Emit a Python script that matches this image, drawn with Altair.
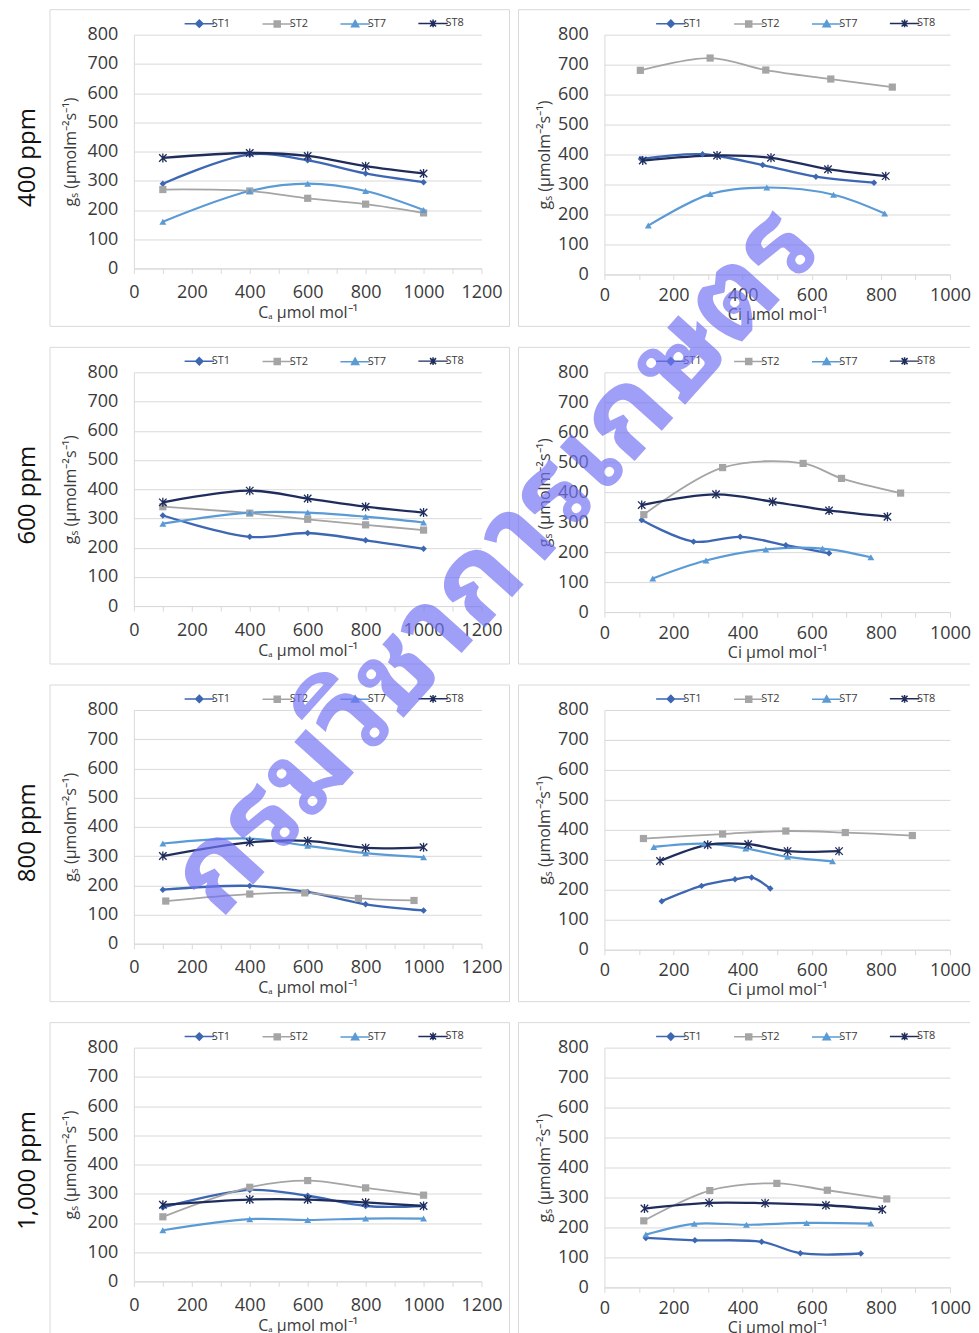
import altair as alt
import pandas as pd

SERIES = ["ST1", "ST2", "ST7", "ST8"]
COLORS = ["#3d66b3", "#a5a5a5", "#5b9bd5", "#1f2d5c"]
ROW_LABELS = ["400 ppm", "600 ppm", "800 ppm", "1,000 ppm"]
WATERMARK = "กรมวิชาการเกษตร"
X_TITLE_CA = "Cₐ μmol mol⁻¹"
X_TITLE_CI = "Ci μmol mol⁻¹"
Y_TITLE = "gₛ (μmolm⁻²s⁻¹)"

CA = [100, 400, 600, 800, 1000]
CA_800_ST2 = [110, 400, 590, 775, 967]

# ---- 400 ppm ----
GS_CA_400 = {"ST1": [290, 390, 370, 325, 295], "ST2": [270, 265, 240, 220, 190],
             "ST7": [160, 265, 290, 265, 200], "ST8": [378, 395, 385, 350, 325]}
CI_400 = {"ST1": [106, 284, 458, 612, 780], "ST2": [104, 306, 467, 655, 833],
          "ST7": [127, 306, 470, 663, 811], "ST8": [111, 326, 482, 647, 814]}
GS_CI_400 = {"ST1": [385, 401, 365, 326, 306], "ST2": [681, 722, 682, 652, 625],
             "ST7": [163, 268, 290, 266, 203], "ST8": [380, 397, 389, 351, 328]}

# ---- 600 ppm ----
GS_CA_600 = {"ST1": [310, 237, 250, 225, 196], "ST2": [340, 318, 297, 278, 260],
             "ST7": [282, 320, 320, 306, 286], "ST8": [355, 395, 368, 340, 320]}
CI_600 = {"ST1": [108, 258, 393, 525, 650], "ST2": [114, 342, 575, 686, 857],
          "ST7": [140, 294, 467, 631, 771], "ST8": [108, 323, 487, 650, 819]}
GS_CI_600 = {"ST1": [307, 235, 251, 223, 196], "ST2": [325, 482, 496, 446, 397],
             "ST7": [112, 172, 209, 212, 183], "ST8": [357, 393, 368, 339, 318]}

# ---- 800 ppm ----
GS_CA_800 = {"ST1": [185, 198, 177, 135, 114], "ST2": [146, 170, 174, 155, 148],
             "ST7": [343, 360, 335, 310, 296], "ST8": [300, 347, 352, 328, 330]}
CI_800 = {"ST1": [166, 281, 378, 426, 480], "ST2": [113, 342, 525, 697, 891],
          "ST7": [143, 289, 409, 530, 660], "ST8": [161, 299, 416, 530, 679]}
GS_CI_800 = {"ST1": [162, 213, 235, 241, 204], "ST2": [371, 386, 396, 391, 381],
             "ST7": [343, 354, 338, 310, 295], "ST8": [296, 350, 352, 329, 329]}

# ---- 1,000 ppm ----
GS_CA_1000 = {"ST1": [253, 313, 293, 258, 258], "ST2": [221, 322, 345, 320, 295],
              "ST7": [175, 213, 210, 215, 215], "ST8": [262, 280, 280, 270, 258]}
CI_1000 = {"ST1": [120, 262, 455, 567, 742], "ST2": [114, 305, 499, 645, 817],
           "ST7": [120, 260, 411, 585, 771], "ST8": [116, 303, 465, 641, 804]}
GS_CI_1000 = {"ST1": [165, 157, 152, 114, 113], "ST2": [222, 323, 347, 324, 295],
              "ST7": [176, 212, 209, 215, 213], "ST8": [263, 282, 281, 274, 260]}

CA_X_400 = {s: CA for s in SERIES}
CA_X_600 = {s: CA for s in SERIES}
CA_X_800 = {"ST1": CA, "ST2": CA_800_ST2, "ST7": CA, "ST8": CA}
CA_X_1000 = {s: CA for s in SERIES}

FONT = "Open Sans"
TXT = "#3a3a3a"
GRID = "#d9d9d9"

MARKER_SHAPES = ["diamond", "square", "triangle-up", "M-1,-1L1,1M-1,1L1,-1M0,-1.2L0,1.2"]
MARKER_SIZES = [42, 52, 48, 56]
MARKER_FILLED = [True, True, True, False]
LINE_WIDTHS = [2.3, 1.8, 2.2, 2.3]
STUB = "M-4.9,0H4.9"
LEGEND_SHAPES = [STUB + "M0,-1.2L1.2,0L0,1.2L-1.2,0Z",
                 STUB + "M-1,-1H1V1H-1Z",
                 STUB + "M0,-1.2L1.2,0.9H-1.2Z",
                 STUB + "M-1,-1L1,1M-1,1L1,-1M0,-1.3V1.3"]


def make_df(xs, ys):
    rows = []
    for s in SERIES:
        for i, (a, b) in enumerate(zip(xs[s], ys[s])):
            rows.append({"series": s, "x": a, "y": b, "i": i})
    return pd.DataFrame(rows)


def panel(xs, ys, left, row_label=None, watermark=False):
    if left:
        w, h, xmax, xtitle = 348, 234, 1200, X_TITLE_CA
        bx0, bx1, lx, ytp, xlp, xtp = -84, 376, 60, 9, 10, 3
    else:
        w, h, xmax, xtitle = 346, 240, 1000, X_TITLE_CI
        bx0, bx1, lx, ytp, xlp, xtp = -86, 366, 61, 5, 7, 2
    df = make_df(xs, ys)
    base = alt.Chart(df)
    xaxis = alt.Axis(values=list(range(0, xmax + 1, 100)), format="d",
                     labelExpr="datum.value % 200 === 0 ? datum.label : ''",
                     labelOverlap=False, labelFlush=False, grid=False,
                     domainColor=GRID, tickColor=GRID, tickSize=5,
                     labelPadding=xlp, labelFontSize=18, title=xtitle,
                     titleFontSize=16, titlePadding=xtp)
    yaxis = alt.Axis(values=list(range(0, 801, 100)), format="d",
                     labelOverlap=False, labelFlush=False, grid=True,
                     gridColor=GRID, domainColor=GRID, ticks=False, tickSize=0,
                     labelPadding=16, labelFontSize=18, title=Y_TITLE,
                     titleFontSize=16, titlePadding=ytp)
    X = alt.X("x:Q", scale=alt.Scale(domain=[0, xmax], nice=False), axis=xaxis)
    Y = alt.Y("y:Q", scale=alt.Scale(domain=[0, 800], nice=False), axis=yaxis)

    one = pd.DataFrame({"label": [row_label or ""]})
    layers = []
    frame = alt.Chart(one).mark_rule(stroke=GRID, strokeWidth=1, clip=False)
    layers.append(frame.encode(x=alt.value(bx0), x2=alt.value(bx1), y=alt.value(-25)))
    layers.append(frame.encode(x=alt.value(bx0), x2=alt.value(bx1), y=alt.value(292)))
    layers.append(frame.encode(x=alt.value(bx0), y=alt.value(-25), y2=alt.value(292)))
    if left:
        layers.append(frame.encode(x=alt.value(bx1), y=alt.value(-25), y2=alt.value(292)))
        layers.append(alt.Chart(one).mark_rect(fillOpacity=0, strokeOpacity=0, clip=False)
                      .encode(x=alt.value(-126), x2=alt.value(-125), y=alt.value(-25), y2=alt.value(-24)))
        layers.append(alt.Chart(one).mark_text(angle=270, fontSize=24, font=FONT, color="#111111",
                                               align="center", baseline="middle", clip=False)
                      .encode(x=alt.value(-106), y=alt.value(h / 2 + 6), text="label:N"))
    # legend-only layer (no data rows drawn; legend built from the series domain)
    leg = alt.Legend(orient="none", legendX=lx, legendY=-17, direction="horizontal", title=None,
                     labelFont=FONT, labelFontSize=11, labelColor=TXT, symbolSize=36,
                     symbolStrokeWidth=1.5, labelOffset=7, columnPadding=28, padding=0)
    layers.append(base.transform_filter("datum.x < 0")
                  .mark_point(filled=True, opacity=1, size=36, strokeWidth=1.5)
                  .encode(x=X, y=Y,
                          color=alt.Color("series:N", scale=alt.Scale(domain=SERIES, range=COLORS), legend=leg),
                          stroke=alt.Stroke("series:N", scale=alt.Scale(domain=SERIES, range=COLORS), legend=leg),
                          shape=alt.Shape("series:N", scale=alt.Scale(domain=SERIES, range=LEGEND_SHAPES), legend=leg)))
    for s, c, lw in zip(SERIES, COLORS, LINE_WIDTHS):
        layers.append(base.transform_filter(alt.datum.series == s)
                      .mark_line(interpolate="catmull-rom", strokeWidth=lw, color=c)
                      .encode(x=X, y=Y, order="i:Q"))
    for s, c, shp, sz, fl in zip(SERIES, COLORS, MARKER_SHAPES, MARKER_SIZES, MARKER_FILLED):
        layers.append(base.transform_filter(alt.datum.series == s)
                      .mark_point(shape=shp, size=sz, filled=fl, color=c, opacity=1, strokeWidth=1.3)
                      .encode(x=X, y=Y))
    if watermark:
        wm = pd.DataFrame({"t": [WATERMARK]})
        layers.append(alt.Chart(wm).mark_text(angle=312, fontSize=116, fontWeight="bold", color="#7272f4",
                                              opacity=0.68, align="center", baseline="middle",
                                              font="Noto Sans Thai Looped, Loma, Noto Sans", clip=False)
                      .encode(x=alt.value(-108), y=alt.value(-486), text="t:N"))
    return alt.layer(*layers).properties(width=w, height=h)


panels = [
    panel(CA_X_400, GS_CA_400, True, ROW_LABELS[0]), panel(CI_400, GS_CI_400, False),
    panel(CA_X_600, GS_CA_600, True, ROW_LABELS[1]), panel(CI_600, GS_CI_600, False),
    panel(CA_X_800, GS_CA_800, True, ROW_LABELS[2]), panel(CI_800, GS_CI_800, False),
    panel(CA_X_1000, GS_CA_1000, True, ROW_LABELS[3]), panel(CI_1000, GS_CI_1000, False, watermark=True),
]

chart = (alt.concat(*panels, columns=2, spacing={"row": 98, "column": 123}, bounds="flush")
         .resolve_scale(color="independent", stroke="independent", shape="independent")
         .properties(padding={"left": 0, "top": 0, "right": 0, "bottom": 0},
                     autosize=alt.AutoSizeParams(type="pad"))
         .configure_view(stroke=None)
         .configure_axis(labelFont=FONT, titleFont=FONT, labelColor=TXT, titleColor=TXT,
                         titleFontWeight="normal"))

chart.save("out.html", embed_options={"renderer": "svg", "actions": False})
